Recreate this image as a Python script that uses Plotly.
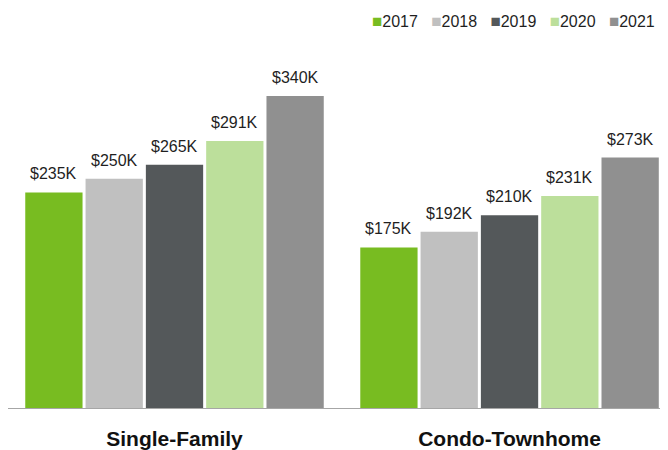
import plotly.graph_objects as go

categories = ["Single-Family", "Condo-Townhome"]
years = ["2017", "2018", "2019", "2020", "2021"]
values = {
    "2017": [235, 175],
    "2018": [250, 192],
    "2019": [265, 210],
    "2020": [291, 231],
    "2021": [340, 273],
}
colors = ["#78bc21", "#c0c0c0", "#54585a", "#bcdf9b", "#909090"]

FONT = "Liberation Sans, Arial, Helvetica, sans-serif"
BARGAP = 0.1
BARGROUPGAP = 0.05

fig = go.Figure()
for yr, col in zip(years, colors):
    fig.add_trace(go.Bar(
        name=yr, x=categories, y=values[yr], marker=dict(color=col, line=dict(width=0)),
        showlegend=False, hoverinfo="skip",
    ))

# value labels above bars
n = len(years)
slot = (1 - BARGAP) / n
for i, yr in enumerate(years):
    for j, v in enumerate(values[yr]):
        fig.add_annotation(
            x=j + (i - (n - 1) / 2) * slot, y=v, xref="x", yref="y",
            text=f"${v}K", showarrow=False, yanchor="bottom", yshift=8,
            font=dict(family=FONT, size=16, color="#1f1f1f"),
        )

# custom legend
items = []
for yr, col in zip(years, colors):
    items.append(f"<span style='color:{col};font-size:17px'>\u25a0</span>{yr}")
legend_text = "\u00a0\u00a0\u00a0".join(items)
fig.add_annotation(
    x=1, y=1.054, xref="paper", yref="paper", xanchor="right", yanchor="middle",
    xshift=-11, text=legend_text, showarrow=False,
    font=dict(family=FONT, size=16, color="#1f1f1f"),
)

fig.update_layout(
    width=660, height=442,
    margin=dict(l=0, r=0, t=33, b=39),
    barmode="group", bargap=BARGAP, bargroupgap=BARGROUPGAP,
    paper_bgcolor="white", plot_bgcolor="white",
    font=dict(family=FONT, color="#1f1f1f"),
    showlegend=False,
    xaxis=dict(
        type="category", range=[-0.497, 1.473], showline=True, linecolor="#a6a6a6",
        linewidth=1, ticks="outside", ticklen=12, tickcolor="rgba(0,0,0,0)",
        tickfont=dict(family=FONT, size=21, color="#111111", weight="bold"),
        showgrid=False, zeroline=False,
    ),
    yaxis=dict(range=[0, 400], visible=False, showgrid=False, zeroline=False),
)

fig.write_html("out.html")
